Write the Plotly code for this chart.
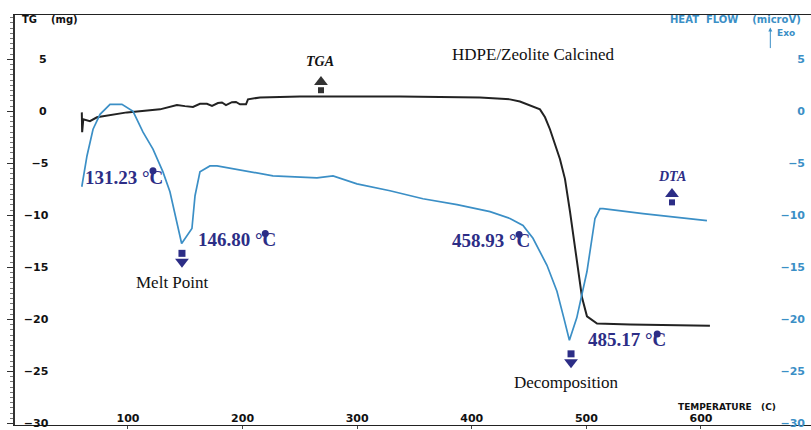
import plotly.graph_objects as go

# TGA trace: sample mass change (mg) vs temperature (°C)
tga_temp = [59.7, 60.0, 61.0, 66.8, 72.9, 99.1, 127.9, 142.7, 149.7, 156.7, 162.8,
            168.9, 173.3, 178.5, 182.0, 185.5, 190.7, 194.2, 197.7, 203.0, 204.7,
            215.2, 250.0, 337.3, 407.1, 433.3, 442.0, 450.8, 459.5, 463.9, 468.2,
            476.9, 481.3, 485.7, 491.8, 496.2, 500.5, 505.0, 509.3, 538.1, 607.8]
tga_mass = [-0.1, -2.0, -0.76, -0.95, -0.57, -0.1, 0.19, 0.6, 0.5, 0.42, 0.72,
            0.72, 0.52, 0.8, 0.85, 0.6, 0.88, 0.9, 0.68, 0.68, 1.15,
            1.34, 1.43, 1.43, 1.34, 1.15, 0.95, 0.57, 0.19, -0.57, -1.72,
            -4.58, -6.49, -9.64, -14.4, -17.9, -19.7, -20.1, -20.4, -20.5, -20.6]

# DTA trace: heat flow (microV) vs temperature (°C)
dta_temp = [59.7, 64.2, 69.5, 75.6, 84.3, 94.7, 104.4, 113.1, 121.8, 130.5,
            136.6, 142.7, 146.8, 155.8, 158.5, 162.8, 171.5, 177.7, 197.7, 226.5,
            264.9, 278.9, 299.8, 328.6, 357.4, 387.1, 415.9, 433.3, 444.7, 453.4,
            465.6, 474.3, 480.3, 485.17, 491.6, 500.5, 507.5, 511.9, 514.5, 549.4, 605.2]
dta_flow = [-7.25, -4.29, -1.72, -0.29, 0.67, 0.67, 0.0, -2.0, -3.63, -5.82,
            -7.73, -10.6, -12.7, -11.26, -8.11, -5.82, -5.25, -5.25, -5.63, -6.2,
            -6.39, -6.2, -6.97, -7.63, -8.4, -8.97, -9.64, -10.3, -10.97, -12.2,
            -14.8, -17.3, -19.85, -22.0, -19.85, -15.4, -10.3, -9.35, -9.35, -9.83, -10.5]

# characteristic temperatures marked on the DTA curve
peak_temps = [131.23, 146.80, 458.93, 485.17]
peak_label_pos = [(60.7, -6.4), (159.3, -12.3), (380.9, -12.4), (499.6, -21.95)]
peak_dot_pos = [(121.8, -5.7), (219.8, -11.75), (441.3, -11.85), (561.8, -21.4)]

x_ticks = [100, 200, 300, 400, 500, 600]
y_ticks = [5, 0, -5, -10, -15, -20, -25, -30]

NAVY = "#2c2d86"
BLUE = "#3b8fc6"
TICK_FONT = dict(family="DejaVu Sans", size=11, color="#111111", weight="bold")

fig = go.Figure()

fig.add_trace(go.Scatter(x=tga_temp, y=tga_mass, mode="lines",
                         line=dict(color="#222222", width=2), showlegend=False))
fig.add_trace(go.Scatter(x=dta_temp, y=dta_flow, mode="lines", yaxis="y2",
                         line=dict(color=BLUE, width=1.7), showlegend=False))

# degree blobs next to the temperature labels
fig.add_trace(go.Scatter(x=[p[0] for p in peak_dot_pos], y=[p[1] for p in peak_dot_pos],
                         mode="markers", marker=dict(color=NAVY, size=7),
                         showlegend=False, hoverinfo="skip"))

# block arrows: up arrows for TGA / DTA, down arrows for the two events
up_arrows = [(268.4, 2.48, "#333333"), (574.7, -8.3, NAVY)]
down_arrows = [(147.1, -14.1), (486.6, -23.76)]
for ax_, ay_, col in up_arrows:
    fig.add_trace(go.Scatter(x=[ax_], y=[ay_ + 0.35], mode="markers",
                             marker=dict(symbol="triangle-up", size=12, color=col),
                             showlegend=False, hoverinfo="skip"))
    fig.add_trace(go.Scatter(x=[ax_], y=[ay_ - 0.45], mode="markers",
                             marker=dict(symbol="square", size=6, color=col),
                             showlegend=False, hoverinfo="skip"))
for ax_, ay_ in down_arrows:
    fig.add_trace(go.Scatter(x=[ax_], y=[ay_ + 0.45], mode="markers",
                             marker=dict(symbol="square", size=7, color=NAVY),
                             showlegend=False, hoverinfo="skip"))
    fig.add_trace(go.Scatter(x=[ax_], y=[ay_ - 0.35], mode="markers",
                             marker=dict(symbol="triangle-down", size=12, color=NAVY),
                             showlegend=False, hoverinfo="skip"))

annotations = []
for t, (lx, ly) in zip(peak_temps, peak_label_pos):
    annotations.append(dict(x=lx, y=ly, xanchor="left", yanchor="middle",
                            text=f"{t:.2f} °C", showarrow=False,
                            font=dict(family="Liberation Serif", size=19,
                                      color=NAVY, weight="bold")))

serif = dict(family="Liberation Serif", size=17, color="#111111")
annotations += [
    dict(x=453.4, y=5.44, text="HDPE/Zeolite Calcined", showarrow=False, font=serif),
    dict(x=138.4, y=-16.5, text="Melt Point", showarrow=False, font=serif),
    dict(x=482.3, y=-26.05, text="Decomposition", showarrow=False, font=serif),
    dict(x=267.5, y=4.77, text="<b><i>TGA</i></b>", showarrow=False,
         font=dict(family="Liberation Serif", size=14, color="#111111")),
    dict(x=574.7, y=-6.3, text="<b><i>DTA</i></b>", showarrow=False,
         font=dict(family="Liberation Serif", size=14, color=NAVY)),
    dict(x=5.7, y=8.78, xanchor="left", text="TG    (mg)", showarrow=False,
         font=dict(family="DejaVu Sans", size=10, color="#111111", weight="bold")),
    dict(x=689.0, y=8.78, xanchor="right", text="HEAT  FLOW    (microV)", showarrow=False,
         font=dict(family="DejaVu Sans", size=10, color=BLUE, weight="bold")),
    dict(x=665.0, y=7.55, xanchor="left", text="Exo", showarrow=False,
         font=dict(family="DejaVu Sans", size=9, color=BLUE, weight="bold")),
    dict(x=660.5, y=8.05, ax=0, ay=22, text="", showarrow=True, arrowhead=2,
         arrowsize=0.8, arrowwidth=1, arrowcolor=BLUE),
    dict(x=622.7, y=-28.4, text="TEMPERATURE   (C)", showarrow=False,
         font=dict(family="DejaVu Sans", size=9, color="#111111", weight="bold")),
]

fig.update_layout(
    width=811, height=430,
    margin=dict(l=15, r=0, t=15, b=2),
    paper_bgcolor="white", plot_bgcolor="white",
    annotations=annotations,
    xaxis=dict(range=[1.4, 696], tickvals=x_ticks, ticks="outside", ticklen=3,
               ticklabelposition="inside", tickfont=TICK_FONT, showgrid=False,
               zeroline=False, showline=True, mirror=True, linecolor="#222222",
               linewidth=1, ticklabeloverflow="allow"),
    yaxis=dict(range=[-30.15, 9.26], tickvals=y_ticks,
               ticktext=["\u2007\u20075", "\u2007\u20070", "\u2007\u22125",
                         "\u221210", "\u221215", "\u221220", "\u221225", "\u221230"],
               ticks="outside", ticklen=6, tickcolor="#333333",
               minor=dict(dtick=0.5, ticks="outside", ticklen=3, tickcolor="#777777"),
               ticklabelposition="inside", ticklabelstandoff=8, tickfont=TICK_FONT,
               showgrid=False, zeroline=False, showline=True, linecolor="#333333",
               linewidth=2, ticklabeloverflow="allow"),
    yaxis2=dict(range=[-30.15, 9.26], tickvals=y_ticks, overlaying="y", side="right",
                ticks="", ticklabelposition="inside", ticklabelstandoff=3,
                tickfont=dict(family="DejaVu Sans", size=11, color=BLUE, weight="bold"),
                showgrid=False, zeroline=False, showline=False,
                ticklabeloverflow="allow"),
)

fig.write_html("out.html")
